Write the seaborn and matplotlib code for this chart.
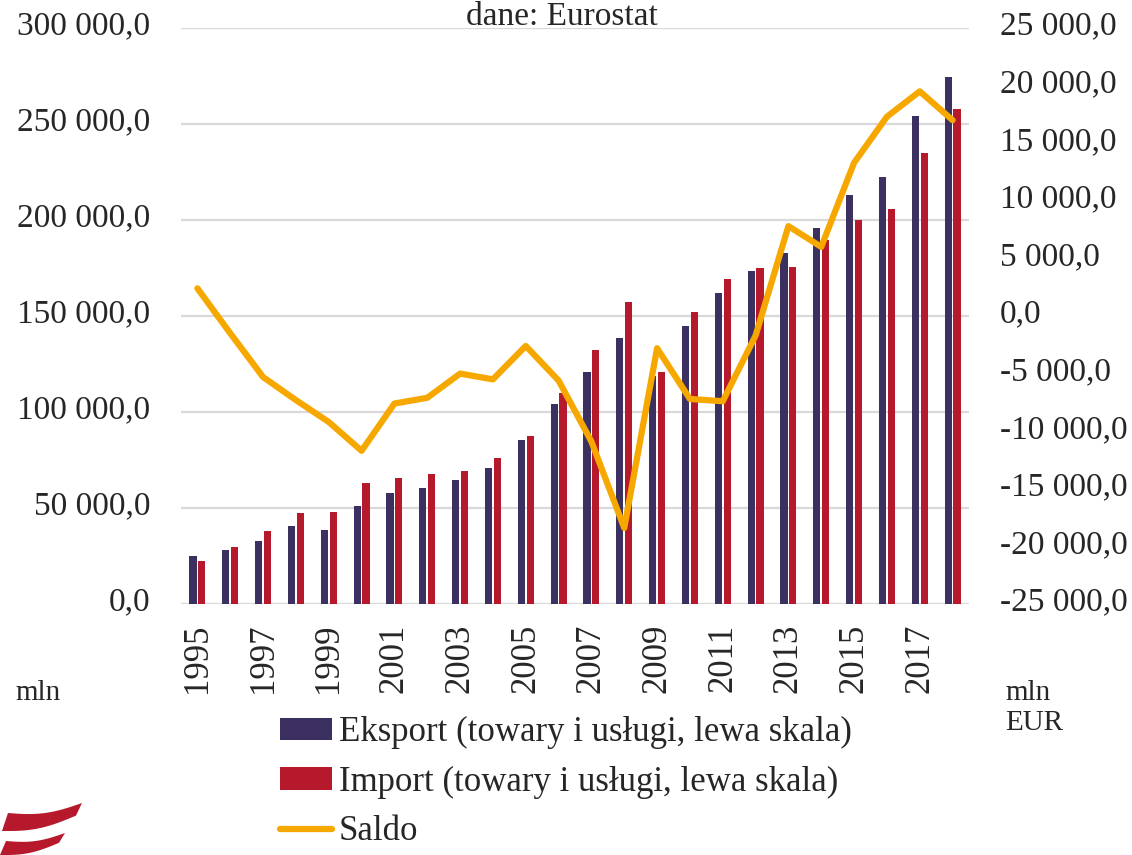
import numpy as np
import pandas as pd
import matplotlib
matplotlib.use("Agg")
import matplotlib.pyplot as plt
import matplotlib.transforms as mtransforms
import seaborn as sns
from matplotlib.patches import Polygon
from matplotlib.lines import Line2D

years = list(range(1995, 2019))
eksport = [25.1, 28.0, 32.8, 40.4, 38.4, 50.9, 58.0, 60.6, 64.5, 70.7, 85.5, 104.0,
           121.0, 138.6, 118.5, 145.0, 162.0, 173.3, 183.0, 195.8, 213.0, 222.6, 254.0, 274.5]
eksport = [v * 1000 for v in eksport]
import_ = [22.5, 29.5, 38.2, 47.6, 47.8, 62.9, 65.7, 67.8, 69.4, 76.2, 87.6, 109.8,
           132.4, 157.2, 120.9, 152.2, 169.3, 174.9, 175.4, 189.8, 199.9, 205.6, 234.7, 257.7]
import_ = [v * 1000 for v in import_]
saldo = [2.4, -1.5, -5.3, -7.3, -9.2, -11.7, -7.6, -7.1, -5.0, -5.5, -2.6, -5.6,
         -10.9, -18.4, -2.8, -7.2, -7.4, -1.7, 7.8, 6.0, 13.3, 17.3, 19.5, 17.0]
saldo = [v * 1000 for v in saldo]

lbl_exp = "Eksport (towary i usługi, lewa skala)"
lbl_imp = "Import (towary i usługi, lewa skala)"
lbl_sal = "Saldo"
c_exp = "#3c3060"
c_imp = "#b5192b"
c_sal = "#f7a800"

sns.set_theme(style="white")
plt.rcParams["font.family"] = ["Liberation Serif", "DejaVu Serif"]

df = pd.DataFrame({
    "rok": [str(y) for y in years] * 2,
    "wartosc": eksport + import_,
    "seria": [lbl_exp] * len(years) + [lbl_imp] * len(years),
})

fig = plt.figure(figsize=(11.32, 8.55), dpi=100)
ax = fig.add_axes([181 / 1132, 1 - 604 / 855, (969 - 181) / 1132, (604 - 28) / 855])

sns.barplot(data=df, x="rok", y="wartosc", hue="seria", ax=ax,
            palette=[c_exp, c_imp], width=0.54, gap=0.2, linewidth=0,
            saturation=1, legend=False)

ax.set_ylim(0, 300000)
ax.set_xlim(-0.5, len(years) - 0.5)
ax.set_yticks(np.arange(0, 300001, 50000))
fmt = lambda v: f"{v:,.1f}".replace(",", " ").replace(".", ",")
ax.set_yticklabels([fmt(v) for v in np.arange(0, 300001, 50000)])
ax.set_xticks(range(0, len(years), 2))
ax.set_xticklabels([str(y) for y in years[::2]], rotation=90)
ax.yaxis.grid(True, color="#d9d9d9", linewidth=1.6)
ax.set_axisbelow(True)
for s in ax.spines.values():
    s.set_visible(False)
ax.set_xlabel("")
ax.set_ylabel("")
ax.tick_params(axis="y", length=0, pad=22, labelsize=24)
ax.tick_params(axis="x", length=0, pad=14, labelsize=25)

ax2 = ax.twinx()
sns.lineplot(x=np.arange(len(years)), y=saldo, ax=ax2, color=c_sal, linewidth=4.5,
             sort=False, legend=False)
ax2.set_ylim(-25000, 25000)
ax2.set_yticks(np.arange(-25000, 25001, 5000))
ax2.set_yticklabels([fmt(v) for v in np.arange(-25000, 25001, 5000)])
ax2.tick_params(axis="y", length=0, pad=22, labelsize=24)
for s in ax2.spines.values():
    s.set_visible(False)
ax2.set_ylabel("")
ax2.grid(False)
ax2.set_xlim(-0.5, len(years) - 0.5)

# shift y tick labels slightly upward, as in the reference
off = mtransforms.ScaledTranslation(0, 5 / 100, fig.dpi_scale_trans)
for lab in ax.get_yticklabels() + ax2.get_yticklabels():
    lab.set_transform(lab.get_transform() + off)

fig.text(0.496, 1 - 25 / 855, "dane: Eurostat", ha="center", va="baseline", fontsize=24)
fig.text(15 / 1132, 1 - 700 / 855, "mln", ha="left", va="baseline", fontsize=21)
fig.text(1005 / 1132, 1 - 700 / 855, "mln", ha="left", va="baseline", fontsize=21)
fig.text(1005 / 1132, 1 - 730 / 855, "EUR", ha="left", va="baseline", fontsize=21)

handles = [
    plt.Rectangle((0, 0), 1, 1, facecolor=c_exp, edgecolor="none"),
    plt.Rectangle((0, 0), 1, 1, facecolor=c_imp, edgecolor="none"),
    Line2D([0], [0], color=c_sal, linewidth=4.5),
]
fig.legend(handles, [lbl_exp, lbl_imp, lbl_sal], loc="upper left",
           bbox_to_anchor=(280 / 1132, 1 - 716 / 855), frameon=False,
           fontsize=25, handlelength=1.5, handleheight=0.6, handletextpad=0.2,
           labelspacing=0.48, borderpad=0, borderaxespad=0)

# decorative logo (two red waves)
lax = fig.add_axes([0, 0, 90 / 1132, 60 / 855])
lax.set_xlim(0, 90)
lax.set_ylim(0, 60)
lax.axis("off")
t = np.linspace(0, 1, 40)
def wave(x0, x1, ytop, h, amp):
    xs = x0 + (x1 - x0) * t
    top = ytop + amp * np.sin(np.pi * t) * -1 + amp * 2 * t
    bot = top - h * (1 - 0.3 * t)
    pts = np.vstack([np.column_stack([xs, top]), np.column_stack([xs[::-1] - 6, bot[::-1]])])
    return pts
lax.add_patch(Polygon(wave(8, 82, 42, 18, 5), closed=True, facecolor=c_imp, edgecolor="none"))
lax.add_patch(Polygon(wave(6, 65, 14, 14, 4), closed=True, facecolor=c_imp, edgecolor="none"))

fig.savefig("out.png", dpi=100)
